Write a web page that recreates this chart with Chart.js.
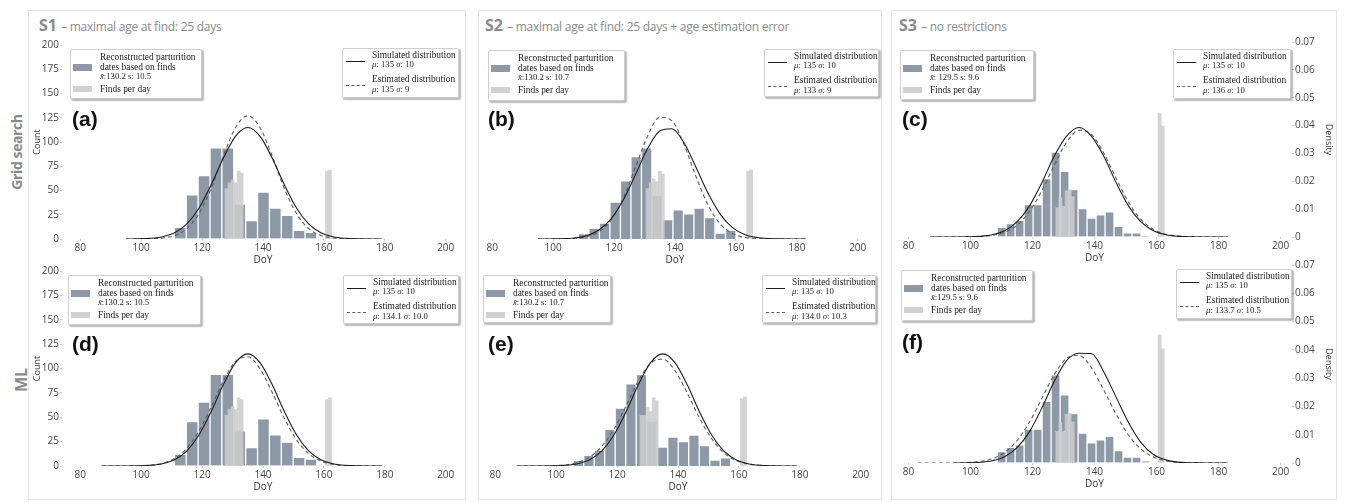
<!DOCTYPE html>
<html>
<head>
<meta charset="utf-8">
<script src="https://cdn.jsdelivr.net/npm/chart.js@4.4.1/dist/chart.umd.min.js"></script>
<style>
  body { margin: 0; background: #fff; }
  #fig { position: relative; width: 1345px; height: 502px; overflow: hidden; font-family: "Open Sans", sans-serif; }
  .frame { position: absolute; border: 1px solid #e4e4e4; box-sizing: border-box; }
  .head { position: absolute; color: #8a8a8a; font-size: 16px; line-height: 16px; white-space: nowrap; }
  .head b { font-weight: 700; }
  .head span { font-size: 12px; letter-spacing: -0.25px; }
  .row { position: absolute; color: #8a8a8a; font-weight: 700; white-space: nowrap; transform: translate(-50%, -50%) rotate(-90deg); }
  .tag { position: absolute; font-family: "Liberation Sans", Arial, sans-serif; font-weight: 700; font-size: 21px; line-height: 21px; color: #111; }
  canvas { position: absolute; }
  .leg { position: absolute; background: #fff; border: 1px solid #cfcfcf; border-radius: 2px; box-shadow: 1.5px 1.5px 1.5px rgba(0,0,0,0.28); box-sizing: border-box; font-family: "Liberation Serif", "Times New Roman", serif; color: #222; }
  .leg div { position: absolute; white-space: nowrap; }
  .leg .t { left: 29px; font-size: 9.4px; line-height: 10px; }
  .leg .s { left: 29px; font-size: 8.7px; line-height: 10px; }
</style>
</head>
<body>
<div id="fig">
  <div class="frame" style="left:28px;top:10px;width:438px;height:490px"></div>
  <div class="frame" style="left:478px;top:10px;width:404px;height:490px"></div>
  <div class="frame" style="left:891px;top:10px;width:446px;height:490px"></div>

  <div class="head" style="left:39px;top:17px"><b>S1</b> <span>– maximal age at find: 25 days</span></div>
  <div class="head" style="left:485px;top:17px"><b>S2</b> <span>– maximal age at find: 25 days + age estimation error</span></div>
  <div class="head" style="left:899px;top:17px"><b>S3</b> <span>– no restrictions</span></div>

  <div class="row" style="left:15.5px;top:152px;font-size:14px;letter-spacing:-0.4px">Grid search</div>
  <div class="row" style="left:21px;top:380px;font-size:16px">ML</div>
</div>
<script>
// x axis (day of year) and y axis tick labels
const doyTicks = [80, 100, 120, 140, 160, 180, 200];
const countTicks = [0, 25, 50, 75, 100, 125, 150, 175, 200];
const densityTicks = [0, 0.01, 0.02, 0.03, 0.04, 0.05, 0.06, 0.07];

// reconstructed parturition dates: bin centres (DoY) and heights
const binsS1 = [112.85, 116.75, 120.65, 124.55, 128.45, 132.35, 136.25, 140.15, 144.05, 147.95, 151.85, 155.75];
const countsS1 = [12, 45.5, 65.5, 94, 94, 36, 19, 48.5, 32, 24.5, 9, 7];
const binsS2grid = [110.0, 113.45, 116.9, 120.35, 123.8, 127.25, 130.7, 134.15, 137.6, 141.05, 144.5, 147.95, 151.4, 154.85, 158.3];
const countsS2grid = [5.5, 11, 16.5, 38, 60, 85, 94, 45, 20, 30, 26, 32, 22, 6, 9];
const binsS2ml = [107.3, 110.75, 114.2, 117.65, 121.1, 124.55, 128.0, 131.45, 134.9, 138.35, 141.8, 145.25, 148.7, 152.15, 155.6];
const countsS2ml = [5.8, 11, 16, 37.6, 59.5, 84.4, 93.7, 46, 19.5, 29.7, 25, 31.8, 20.9, 6, 8.5];
const binsS3 = [110.05, 112.95, 115.85, 118.75, 121.65, 124.55, 127.45, 130.35, 133.25, 136.15, 139.05, 141.95, 144.85, 147.75, 150.65, 153.55, 156.45];
const densS3grid = [0.0035, 0.0048, 0.006, 0.0116, 0.0116, 0.021, 0.0305, 0.0236, 0.017, 0.0102, 0.0068, 0.008, 0.009, 0.0038, 0.0015, 0.0015, 0.0003];
const densS3ml = [0.004, 0.0055, 0.0064, 0.012, 0.012, 0.0218, 0.0312, 0.0241, 0.0175, 0.0106, 0.0071, 0.0082, 0.0094, 0.0044, 0.0021, 0.0021, 0.0006];

// finds per day
const findDays = [128, 129, 130, 131, 132, 133, 161, 162];
const findDaysS2grid = [131, 132, 133, 134, 135, 136, 164, 165];
const findsA = [52, 58, 61, 58, 70, 68, 70, 71];
const findsB = [52, 58, 62, 59, 70, 67, 69.6, 71.4];
const findsC = [0.0105, 0.0142, 0.011, 0.0166, 0.017, 0.0145, 0.0443, 0.0398];
const findsD = [52, 58, 61, 58, 70, 68, 68, 70];
const findsE = [52, 52, 60, 56, 70, 67, 69, 71];
const findsF = [0.0112, 0.0144, 0.0112, 0.0172, 0.0175, 0.0145, 0.0453, 0.0404];

// distribution curves read at these days
const curveDays = [83, 87, 91, 95, 99, 103, 107, 111, 115, 119, 123, 127, 131, 135, 139, 143, 147, 151, 155, 159, 163, 167, 171, 175, 179, 183];
const simA = [null, null, null, 0.03, 0.17, 0.7, 2.3, 6.4, 15.5, 32, 56, 83.5, 106.1, 115, 106.1, 83.5, 56, 32, 15.5, 6.4, 2.3, 0.7, 0.17, 0.03, 0.01, null];
const estA = [null, null, null, 0.01, 0.04, 0.23, 1.0, 3.6, 10.8, 26.2, 52.2, 85.6, 115, 127, 115, 85.6, 52.2, 26.2, 10.8, 3.6, 1.0, 0.23, 0.04, 0.01, 0, null];
const simB = [null, null, null, 0.01, 0.07, 0.3, 1.1, 3.4, 9.2, 20.8, 40.2, 66.2, 93.2, 111.4, 113.7, 98.9, 73.2, 46.3, 24.9, 11.4, 4.4, 1.5, 0.42, 0.1, 0.02, 0];
const estB = [null, null, null, 0, 0.02, 0.13, 0.6, 2.4, 7.5, 19.7, 41.9, 73.7, 106.1, 125.5, 121.8, 97, 63.4, 34, 15, 5.5, 1.6, 0.4, 0.08, 0.01, 0, 0];
const simC = [null, 0, 0, 0.00001, 0.00006, 0.00024, 0.00079, 0.00223, 0.00539, 0.01109, 0.01943, 0.02897, 0.0362, 0.0393, 0.0362, 0.02897, 0.01943, 0.01109, 0.00539, 0.00223, 0.00079, 0.00024, 0.00006, 0.00001, 0, 0];
const estC = [null, 0, 0, 0.00001, 0.00004, 0.00017, 0.00057, 0.0017, 0.0042, 0.0091, 0.0166, 0.0257, 0.034, 0.0383, 0.0368, 0.0301, 0.021, 0.0125, 0.0063, 0.0027, 0.001, 0.0003, 0.00008, 0.00002, 0, 0];
const simML = [null, 0, 0.01, 0.03, 0.17, 0.7, 2.3, 6.4, 15.5, 32, 56, 83.5, 106.1, 115, 106.1, 83.5, 56, 32, 15.5, 6.4, 2.3, 0.7, 0.17, 0.03, 0.01, null];
const estD = [null, 0, 0.01, 0.05, 0.24, 0.9, 2.9, 7.8, 18.1, 36, 60.7, 87.4, 107.2, 112, 99.8, 75.7, 48.9, 27, 12.7, 5.1, 1.7, 0.5, 0.12, 0.02, 0, null];
const estE = [null, 0, 0.02, 0.08, 0.34, 1.2, 3.6, 9.2, 20.2, 38, 62, 87.2, 105.4, 109.5, 97.8, 75.1, 49.6, 28.2, 13.7, 5.7, 2.1, 0.66, 0.17, 0.04, 0.01, null];
const simF = [null, null, null, 0.00001, 0.00006, 0.00024, 0.0008, 0.0022, 0.0054, 0.011, 0.0194, 0.0288, 0.0362, 0.0388, 0.0387, 0.0322, 0.0232, 0.0142, 0.0072, 0.003, 0.0011, 0.0003, 0.00008, 0.00002, 0, 0];
const estF = [0, 0, 0.00001, 0.00004, 0.00016, 0.00054, 0.0015, 0.0037, 0.0079, 0.0144, 0.0228, 0.0312, 0.037, 0.038, 0.0337, 0.0258, 0.0172, 0.0098, 0.0049, 0.0021, 0.00078, 0.00025, 0.00007, 0.00002, 0, 0];

// legend texts
const panelLetters = ['(a)', '(b)', '(c)', '(d)', '(e)', '(f)'];
const histStats = ['130.2 s: 10.5', '130.2 s: 10.7', ' 129.5 s: 9.6', '130.2 s: 10.5', '130.2 s: 10.7', '129.5 s: 9.6'];
const simParams = ['135', '10'];
const estParams = [['135', '9'], ['133', '9'], ['136', '10'], ['134.1', '10.0'], ['134.0', '10.3'], ['133.7', '10.5']];

const fig = document.getElementById('fig');
const histColor = 'rgb(141,153,166)';
const findsColor = 'rgba(204,204,204,0.85)';

const points = (xs, ys) => xs.map((x, i) => ({ x: x, y: ys[i] }));

const countAxis = { yPos: 'left', yW: 30, yMax: 200, yTicks: countTicks, yTitle: 'Count', padL: 0, padR: 4, xMin: 74, xMax: 206 };
const bareAxis = { yPos: null, yW: 0, yMax: 200, yTicks: countTicks, yTitle: '', padL: 4, padR: 4, xMin: 74, xMax: 206 };
const densAxis = { yPos: 'right', yW: 42, yMax: 0.07, yTicks: densityTicks, yTitle: 'Density', padL: 4, padR: 0, xMin: 76.3, xMax: 203.7 };

const panels = [
  Object.assign({ left: 32, top: 37, w: 436, h: 229, bins: binsS1, hist: countsS1, fDays: findDays, finds: findsA, sim: simA, est: estA,
    tag: [72, 108], legL: [70, 49, 132, 50], legR: [342, 48, 117, 50] }, countAxis),
  Object.assign({ left: 470, top: 37, w: 410, h: 229, bins: binsS2grid, hist: countsS2grid, fDays: findDaysS2grid, finds: findsB, sim: simB, est: estB,
    tag: [488, 108], legL: [488, 50, 137, 51], legR: [764, 49, 115, 48] }, bareAxis),
  Object.assign({ left: 893, top: 34, w: 441, h: 230, bins: binsS3, hist: densS3grid, fDays: findDays, finds: findsC, sim: simC, est: estC,
    tag: [902, 108], legL: [900, 50, 134, 50], legR: [1173, 49, 118, 50] }, densAxis),
  Object.assign({ left: 32, top: 263, w: 436, h: 230, bins: binsS1, hist: countsS1, fDays: findDays, finds: findsD, sim: simML, est: estD,
    tag: [72, 333], legL: [68, 275, 133, 50], legR: [343, 275, 116, 49] }, countAxis),
  Object.assign({ left: 473, top: 263, w: 410, h: 230, bins: binsS2ml, hist: countsS2ml, fDays: findDays, finds: findsE, sim: simML, est: estE,
    tag: [488, 333], legL: [483, 275, 128, 48], legR: [762, 275, 114, 48] }, bareAxis),
  Object.assign({ left: 893, top: 257, w: 441, h: 233, bins: binsS3, hist: densS3ml, fDays: findDays, finds: findsF, sim: simF, est: estF,
    tag: [902, 331], legL: [901, 270, 132, 51], legR: [1176, 269, 116, 50] }, densAxis)
];

function drawPanel(p) {
  const cv = document.createElement('canvas');
  cv.width = p.w;
  cv.height = p.h;
  cv.style.left = p.left + 'px';
  cv.style.top = p.top + 'px';
  fig.appendChild(cv);

  // pixels per day on the x axis, so that bars fill their bins
  const pxPerDay = (p.w - p.padL - p.padR - (p.yPos ? p.yW : 0)) / (p.xMax - p.xMin);
  const binPx = (p.bins[1] - p.bins[0]) * pxPerDay;

  const tickFont = { family: 'Open Sans', size: 10 };
  const titleFont = { family: 'Open Sans', size: 9 };

  return new Chart(cv, {
    type: 'bar',
    data: {
      datasets: [
        { type: 'line', label: 'Simulated distribution', data: points(curveDays, p.sim), borderColor: '#1c1c1c', borderWidth: 1.1,
          pointRadius: 0, cubicInterpolationMode: 'monotone', order: 0 },
        { type: 'line', label: 'Estimated distribution', data: points(curveDays, p.est), borderColor: '#5c5c5c', borderWidth: 1.1,
          borderDash: [4, 3], pointRadius: 0, cubicInterpolationMode: 'monotone', order: 1 },
        { label: 'Finds per day', data: points(p.fDays, p.finds), xAxisID: 'x2', backgroundColor: findsColor,
          grouped: false, barThickness: pxPerDay, order: 2 },
        { label: 'Reconstructed parturition dates based on finds', data: points(p.bins, p.hist), xAxisID: 'x', backgroundColor: histColor,
          borderColor: 'rgba(255,255,255,0.45)', borderWidth: 1, grouped: false, barThickness: binPx, order: 3 }
      ]
    },
    options: {
      responsive: false,
      animation: false,
      events: [],
      layout: { padding: { top: 8, left: p.padL, right: p.padR, bottom: 0 } },
      plugins: { legend: { display: false }, tooltip: { enabled: false } },
      scales: {
        x: {
          type: 'linear', min: p.xMin, max: p.xMax, offset: false,
          afterBuildTicks: (s) => { s.ticks = doyTicks.map((v) => ({ value: v })); },
          afterFit: (s) => { s.height = 27; },
          grid: { drawOnChartArea: false, offset: false, tickLength: 2, tickColor: '#d0d0d0' },
          border: { display: false },
          ticks: { font: tickFont, color: '#444', padding: 1, maxRotation: 0, autoSkip: false },
          title: { display: true, text: 'DoY', font: { family: 'Open Sans', size: 10 }, color: '#333', padding: 0 }
        },
        x2: { type: 'linear', min: p.xMin, max: p.xMax, display: false, offset: false, grid: { offset: false } },
        y: {
          type: 'linear', position: p.yPos || 'left', display: !!p.yPos, min: 0, max: p.yMax,
          afterBuildTicks: (s) => { s.ticks = p.yTicks.map((v) => ({ value: v })); },
          afterFit: (s) => { s.width = p.yW; },
          grid: { drawOnChartArea: false, tickLength: 2, tickColor: '#c8c8c8' },
          border: { display: false },
          ticks: { font: tickFont, color: '#444', padding: 1, callback: (v) => String(v) },
          title: { display: !!p.yTitle, text: p.yTitle, font: titleFont, color: '#333', padding: 0 }
        }
      }
    }
  });
}

function box(rect) {
  const d = document.createElement('div');
  d.className = 'leg';
  d.style.left = rect[0] + 'px';
  d.style.top = rect[1] + 'px';
  d.style.width = rect[2] + 'px';
  d.style.height = rect[3] + 'px';
  fig.appendChild(d);
  return d;
}

function legendLeft(rect, stats) {
  const d = box(rect);
  d.innerHTML =
    '<div style="left:2px;top:14px;width:19px;height:6.5px;background:' + histColor + '"></div>' +
    '<div class="t" style="top:1.5px">Reconstructed parturition</div>' +
    '<div class="t" style="top:11.5px">dates based on finds</div>' +
    '<div class="s" style="top:21px"><i>x\u0304</i>:' + stats + '</div>' +
    '<div style="left:2px;top:35.5px;width:19px;height:6px;background:#d0d0d0"></div>' +
    '<div class="t" style="top:34px">Finds per day</div>';
}

function legendRight(rect, est) {
  const d = box(rect);
  d.innerHTML =
    '<div style="left:2.5px;top:12px;width:19px;border-top:1.2px solid #1c1c1c"></div>' +
    '<div class="t" style="top:0.5px">Simulated distribution</div>' +
    '<div class="s" style="top:9.5px"><i>\u03bc</i>: ' + simParams[0] + ' <i>\u03c3</i>: ' + simParams[1] + '</div>' +
    '<div style="left:2.5px;top:36px;width:19px;border-top:1.2px dashed #5c5c5c"></div>' +
    '<div class="t" style="top:25px">Estimated distribution</div>' +
    '<div class="s" style="top:34.5px"><i>\u03bc</i>: ' + est[0] + ' <i>\u03c3</i>: ' + est[1] + '</div>';
}

panels.forEach((p, i) => {
  drawPanel(p);
  legendLeft(p.legL, histStats[i]);
  legendRight(p.legR, estParams[i]);
  const t = document.createElement('div');
  t.className = 'tag';
  t.style.left = p.tag[0] + 'px';
  t.style.top = p.tag[1] + 'px';
  t.textContent = panelLetters[i];
  fig.appendChild(t);
});
</script>
</body>
</html>
